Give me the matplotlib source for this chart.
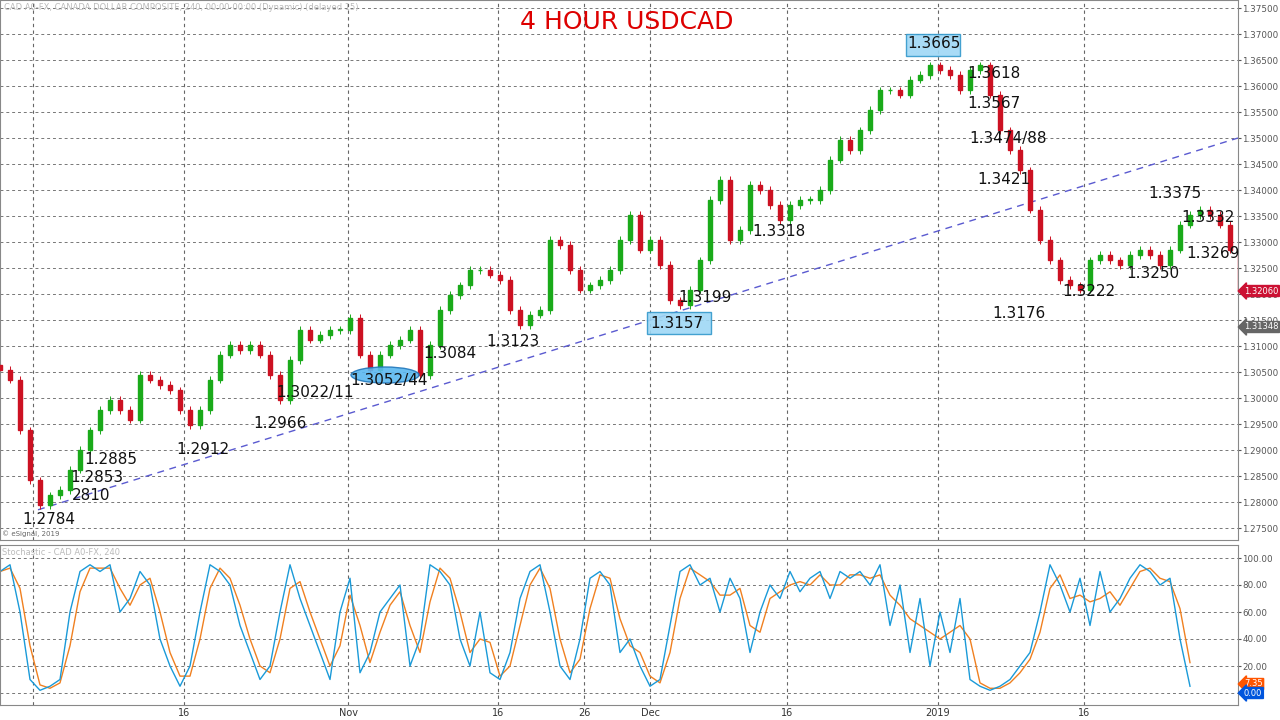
import matplotlib
matplotlib.use("Agg")
import matplotlib.pyplot as plt
from matplotlib.patches import Ellipse, Rectangle
import numpy as np

closes = [1.3054,1.3035,1.2938,1.2842,1.2794,1.2813,1.2823,1.2862,1.2900,1.2938,
          1.2977,1.2996,1.2977,1.2958,1.3044,1.3035,1.3025,1.3015,1.2977,1.2948,
          1.2977,1.3035,1.3083,1.3102,1.3092,1.3102,1.3083,1.3044,1.2996,1.3073,
          1.3131,1.3112,1.3121,1.3131,1.3131,1.3154,1.3083,1.3054,1.3083,1.3102,
          1.3112,1.3131,1.3044,1.3102,1.3169,1.3198,1.3217,1.3246,1.3246,1.3237,
          1.3227,1.3169,1.3140,1.3160,1.3169,1.3304,1.3294,1.3246,1.3208,1.3217,
          1.3227,1.3246,1.3304,1.3352,1.3285,1.3304,1.3256,1.3188,1.3179,1.3208,
          1.3265,1.3381,1.3419,1.3304,1.3323,1.3410,1.3400,1.3371,1.3342,1.3371,
          1.3381,1.3381,1.3400,1.3458,1.3496,1.3477,1.3515,1.3554,1.3592,1.3592,
          1.3583,1.3612,1.3621,1.3640,1.3631,1.3621,1.3592,1.3631,1.3640,1.3583,
          1.3515,1.3477,1.3438,1.3362,1.3304,1.3265,1.3227,1.3217,1.3208,1.3265,
          1.3275,1.3265,1.3256,1.3275,1.3285,1.3275,1.3256,1.3285,1.3333,1.3352,
          1.3362,1.3352,1.3333,1.3285,1.3206]
stoch_k = [90,95,60,10,2,5,10,60,90,95,90,95,60,70,90,80,40,20,5,20,
           60,95,90,80,50,30,10,20,60,95,70,50,30,10,60,85,15,30,60,70,
           80,20,40,95,90,80,40,20,60,15,10,30,70,90,95,60,20,10,40,85,
           90,80,30,40,20,5,10,50,90,95,80,85,60,85,70,30,60,80,70,90,
           75,85,90,70,90,85,90,80,95,50,80,30,70,20,60,30,70,10,5,2,
           5,10,20,30,60,95,80,60,85,50,90,60,70,85,95,90,80,85,40,5]
date_pos = [18.4,34.8,49.8,58.4,65.0,78.7,93.8,108.4]
date_labels = ["16","Nov","16","26","Dec","16","2019","16"]

k = np.array(stoch_k, float)
stoch_d = k.copy()
stoch_d[1:] = (k[1:] + k[:-1]) / 2

fig = plt.figure(figsize=(12.8, 7.2), dpi=100)
fig.patch.set_facecolor("white")
ax = fig.add_axes([0, 0.25, 1238/1280, 0.75])
ax2 = fig.add_axes([0, 15/720, 1238/1280, 160/720])

XMAX = 123.8
for a in (ax, ax2):
    a.set_xlim(0, XMAX)
    a.yaxis.tick_right()
    a.tick_params(axis="y", labelsize=6.3, colors="#555555", length=2, pad=1)
    for s in a.spines.values():
        s.set_color("#888888")
    for xv in [3.3] + date_pos:
        a.axvline(xv, color="#666666", ls=(0, (3, 3)), lw=0.8, zorder=0)

ax.set_ylim(1.375 - 532/5200, 1.375 + 8/5200)
yt = np.arange(1.275, 1.3751, 0.005)
ax.set_yticks(yt)
ax.set_yticklabels([f"{v:.5f}" for v in yt])
for v in yt:
    ax.axhline(v, color="#777777", ls=(0, (3, 3)), lw=0.7, zorder=0)
ax.set_xticks([])

prev = closes[0] + 0.001
for i, c in enumerate(closes):
    o = prev
    col = "#1aaa1a" if c >= o else "#cc1122"
    lo, hi = min(o, c), max(o, c)
    ax.vlines(i, lo - 0.0007, hi + 0.0007, color=col, lw=0.7, zorder=2)
    ax.add_patch(Rectangle((i - 0.2, lo), 0.4, max(hi - lo, 0.0001), color=col, zorder=3))
    prev = c

ax.plot([3.8, 123.8], [1.2785, 1.3500], color="#5a5ad0", ls=(0, (5, 4)), lw=1, zorder=1)

ax2.set_ylim(-12/1.35, 100 + 13/1.35)
st = [0, 20, 40, 60, 80, 100]
ax2.set_yticks(st[1:])
ax2.set_yticklabels([f"{v:.2f}" for v in st[1:]])
for v in st:
    ax2.axhline(v, color="#777777", ls=(0, (3, 3)), lw=0.7, zorder=0)
xs = np.arange(len(stoch_k))
ax2.plot(xs, stoch_d, color="#f08020", lw=1)
ax2.plot(xs, stoch_k, color="#1a9ad8", lw=1)
ax2.set_xticks(date_pos)
ax2.set_xticklabels(date_labels, fontsize=7, color="#333333")
ax2.tick_params(axis="x", length=0, pad=2)

def T(x, y, s, ha="left", **kw):
    fig.text(x/1280, 1 - y/720, s, va="center", ha=ha, **kw)

T(627, 22, "4 HOUR USDCAD", fontsize=18, color="#dd0000", ha="center")
T(4, 7, "CAD A0-FX, CANADA DOLLAR COMPOSITE, 240, 00:00-00:00 (Dynamic) (delayed 15)", fontsize=6, color="#bbbbbb")
T(2, 534, "© eSignal, 2019", fontsize=5, color="#666666")
T(2, 553, "Stochastic - CAD A0-FX, 240", fontsize=6, color="#bbbbbb")

labels = [("1.2784",22,520),("2810",72,496),("1.2853",70,478),("1.2885",84,460),
          ("1.2912",176,449),("1.2966",253,423),("1.3022/11",276,393),("1.3052/44",350,381),
          ("1.3084",423,354),("1.3123",486,341),("1.3157",650,323),("1.3199",678,298),
          ("1.3318",752,232),("1.3665",907,44),("1.3618",967,74),("1.3567",967,104),
          ("1.3474/88",969,138),("1.3421",977,180),("1.3176",992,313),("1.3222",1062,291),
          ("1.3250",1126,274),("1.3269",1186,253),("1.3332",1181,218),("1.3375",1148,194)]
for (bx, by, bw, bh) in [(906, 34, 54, 22), (647, 312, 64, 22)]:
    fig.patches.append(Rectangle((bx/1280, 1-(by+bh)/720), bw/1280, bh/720,
                                 transform=fig.transFigure, facecolor="#9fd8f5",
                                 edgecolor="#3399cc", lw=1, alpha=0.9))
fig.patches.append(Ellipse((385/1280, 1-375/720), 68/1280, 16/720, transform=fig.transFigure,
                           facecolor="#5bb8f0", edgecolor="#2277bb", alpha=0.9))
for s, x, y in labels:
    T(x, y, s, fontsize=11, color="#111111")

def tag(y, s, col):
    fig.text(1244/1280, 1 - y/720, s, fontsize=6, color="white", va="center", ha="left",
             bbox=dict(boxstyle="larrow,pad=0.12", fc=col, ec=col))
tag(291, "1.32060", "#cc1133")
tag(327, "1.31348", "#666666")
tag(684, "7.35", "#ff5500")
tag(693, "0.00", "#0055dd")

fig.savefig("out.png", dpi=100)
